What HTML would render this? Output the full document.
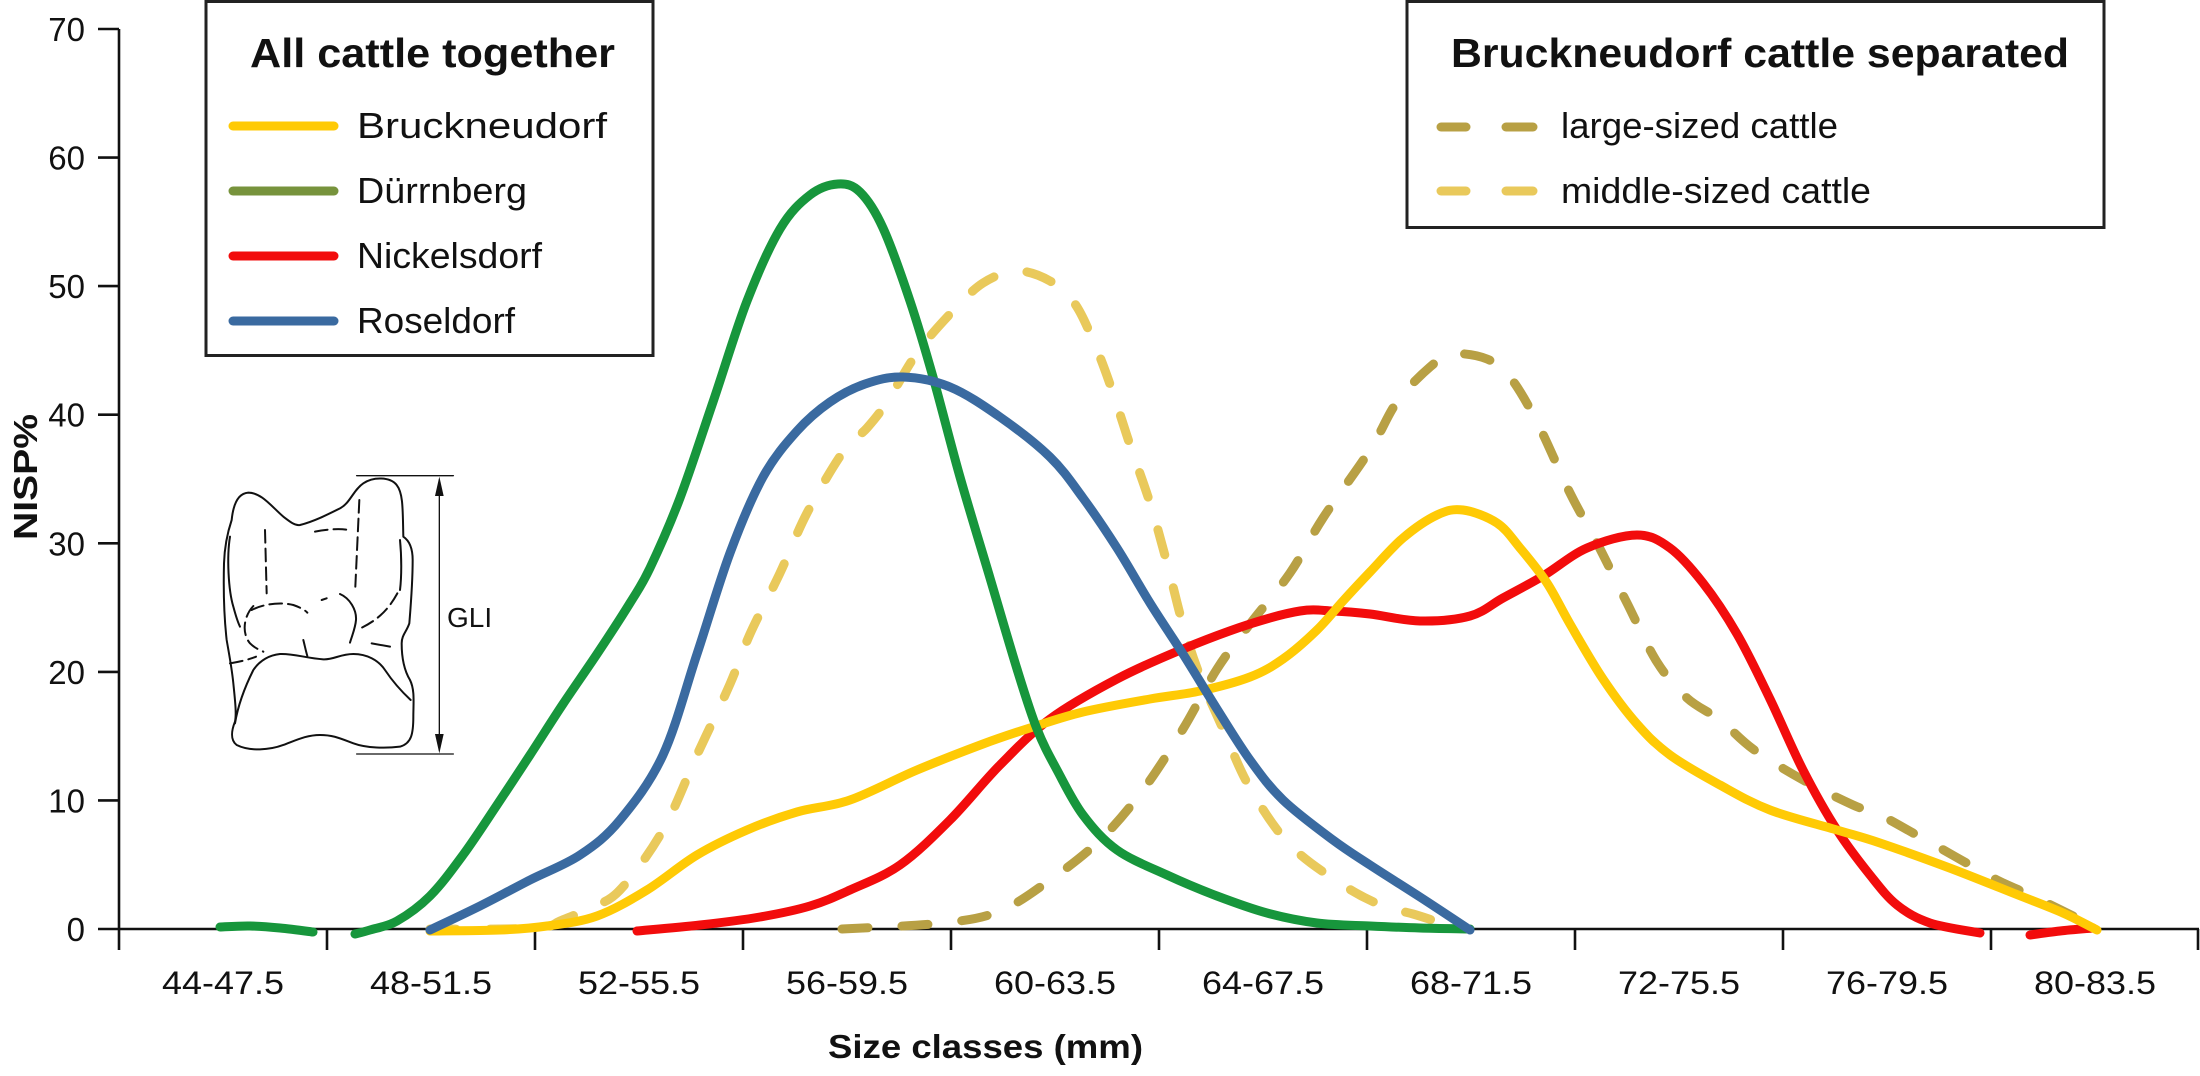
<!DOCTYPE html>
<html>
<head>
<meta charset="utf-8">
<style>
  html, body { margin: 0; padding: 0; background: #ffffff; }
  svg { display: block; }
  text { font-family: "Liberation Sans", Arial, sans-serif; fill: #111; }
</style>
</head>
<body>
<svg id="chart" width="2200" height="1076" viewBox="0 0 2200 1076" xmlns="http://www.w3.org/2000/svg">
  <rect x="0" y="0" width="2200" height="1076" fill="#ffffff"/>

  <!-- Axes -->
  <g stroke="#111" stroke-width="2.6" fill="none">
    <line x1="119" y1="29" x2="119" y2="950"/>
    <line x1="98" y1="929" x2="2199" y2="929"/>
    <line x1="98" y1="29" x2="119" y2="29"/>
    <line x1="98" y1="157.6" x2="119" y2="157.6"/>
    <line x1="98" y1="286.1" x2="119" y2="286.1"/>
    <line x1="98" y1="414.7" x2="119" y2="414.7"/>
    <line x1="98" y1="543.3" x2="119" y2="543.3"/>
    <line x1="98" y1="671.9" x2="119" y2="671.9"/>
    <line x1="98" y1="800.4" x2="119" y2="800.4"/>
    <line x1="327" y1="929" x2="327" y2="950"/>
    <line x1="535" y1="929" x2="535" y2="950"/>
    <line x1="743" y1="929" x2="743" y2="950"/>
    <line x1="951" y1="929" x2="951" y2="950"/>
    <line x1="1159" y1="929" x2="1159" y2="950"/>
    <line x1="1367" y1="929" x2="1367" y2="950"/>
    <line x1="1575" y1="929" x2="1575" y2="950"/>
    <line x1="1783" y1="929" x2="1783" y2="950"/>
    <line x1="1991" y1="929" x2="1991" y2="950"/>
    <line x1="2198" y1="929" x2="2198" y2="950"/>
  </g>

  <!-- Y tick labels -->
  <g font-size="33" text-anchor="end">
    <text x="85" y="41">70</text>
    <text x="85" y="169.6">60</text>
    <text x="85" y="298.1">50</text>
    <text x="85" y="426.7">40</text>
    <text x="85" y="555.3">30</text>
    <text x="85" y="683.9">20</text>
    <text x="85" y="812.4">10</text>
    <text x="85" y="941">0</text>
  </g>

  <!-- X tick labels -->
  <g font-size="32">
    <text x="162" y="994" textLength="122" lengthAdjust="spacingAndGlyphs">44-47.5</text>
    <text x="370" y="994" textLength="122" lengthAdjust="spacingAndGlyphs">48-51.5</text>
    <text x="578" y="994" textLength="122" lengthAdjust="spacingAndGlyphs">52-55.5</text>
    <text x="786" y="994" textLength="122" lengthAdjust="spacingAndGlyphs">56-59.5</text>
    <text x="994" y="994" textLength="122" lengthAdjust="spacingAndGlyphs">60-63.5</text>
    <text x="1202" y="994" textLength="122" lengthAdjust="spacingAndGlyphs">64-67.5</text>
    <text x="1410" y="994" textLength="122" lengthAdjust="spacingAndGlyphs">68-71.5</text>
    <text x="1618" y="994" textLength="122" lengthAdjust="spacingAndGlyphs">72-75.5</text>
    <text x="1826" y="994" textLength="122" lengthAdjust="spacingAndGlyphs">76-79.5</text>
    <text x="2034" y="994" textLength="122" lengthAdjust="spacingAndGlyphs">80-83.5</text>
  </g>

  <!-- Axis titles -->
  <text x="828" y="1058" font-size="33" font-weight="bold" textLength="315" lengthAdjust="spacingAndGlyphs">Size classes (mm)</text>
  <text transform="translate(37,540) rotate(-90)" x="0" y="0" font-size="33" font-weight="bold" textLength="126" lengthAdjust="spacingAndGlyphs">NISP%</text>

  <!-- Bone drawing -->
  <g transform="translate(200,450) scale(0.33333)" fill="none" stroke="#111" stroke-width="6" stroke-linecap="round" stroke-linejoin="round">
    <path d="M95,210 C100,160 115,130 145,128 C185,128 215,170 250,200 C270,215 285,228 300,225 C340,215 380,195 420,175 C450,160 460,120 490,100 C520,80 570,80 590,105 C610,130 608,180 610,260 C625,270 638,290 638,330 C638,400 632,470 628,520 C620,545 605,555 605,580 C605,620 612,660 630,690 C645,720 640,760 640,800 C640,850 635,880 600,890 C560,895 500,895 460,880 C420,865 400,855 360,855 C320,855 290,870 250,885 C210,900 150,905 110,885 C90,870 95,840 105,815 C110,790 105,750 100,700 C95,650 85,600 80,570 C72,500 70,420 72,340 C74,280 85,240 95,210 Z"/>
    <path d="M90,260 C80,320 85,420 100,470 C108,500 115,520 120,530"/>
    <path d="M105,820 C115,760 140,700 160,660 C180,630 210,615 240,612 C280,610 320,625 370,628 C400,630 420,612 460,612 C500,612 535,630 555,660 C575,690 600,720 632,750"/>
    <path d="M310,570 C315,590 318,605 322,618"/>
    <path d="M420,432 C450,445 470,480 468,510 C466,535 455,560 450,578"/>
    <path d="M600,270 C605,320 605,380 600,420"/>
    <path d="M515,580 L570,590"/>
    <g stroke-dasharray="38 18">
      <path d="M195,240 L200,430"/>
      <path d="M478,150 L466,410"/>
      <path d="M345,245 C380,238 420,235 445,240"/>
      <path d="M155,480 C190,462 240,455 280,465 C300,472 315,480 322,488"/>
      <path d="M365,450 L380,445"/>
      <path d="M160,468 C130,500 125,550 150,580 C165,595 180,600 190,605"/>
      <path d="M90,640 C120,635 150,628 168,620"/>
      <path d="M592,430 C570,470 540,510 470,540"/>
    </g>
    <g stroke-width="4">
      <line x1="470" y1="77" x2="760" y2="77"/>
      <line x1="470" y1="912" x2="760" y2="912"/>
      <line x1="718" y1="90" x2="718" y2="900"/>
    </g>
    <polygon points="718,80 705,138 731,138" fill="#111" stroke="none"/>
    <polygon points="718,910 705,852 731,852" fill="#111" stroke="none"/>
  </g>
  <text x="447" y="627" font-size="28">GLI</text>

  <!-- Series -->
  <g fill="none" stroke-width="9" stroke-linecap="round" stroke-linejoin="round">
    <polyline class="smooth" stroke="#E9C95B" stroke-dasharray="26 34" points="430,929 500,929 545,927 560,921 590,908 620,890 663,830 697,755 730,684 750,634 780,573 807,513 843,452 867,428 887,402 917,353 950,314 983,283 1017,271 1050,281 1075,304 1095,345 1112,390 1130,445 1150,503 1167,563 1183,625 1200,676 1223,729 1250,788 1290,845 1343,885 1383,906 1413,914 1445,924 1465,929"/>
    <polyline class="smooth" stroke="#B8A044" stroke-dasharray="26 34" points="842,929 943,923 1000,911 1050,880 1100,840 1143,790 1183,729 1217,669 1250,624 1290,573 1323,518 1370,450 1397,402 1430,367 1453,354 1487,359 1510,377 1537,422 1570,493 1597,543 1627,603 1657,662 1687,698 1720,720 1753,749 1803,780 1853,805 1880,815 1913,833 1940,848 1970,865 1997,880 2030,895 2057,908 2097,928"/>
    <polyline class="smooth" stroke="#F20C0C" points="637,931 700,925 760,917 810,906 850,890 900,865 950,820 1000,765 1050,719 1117,679 1183,649 1250,624 1300,611 1333,611 1370,614 1420,621 1470,616 1503,598 1543,576 1587,548 1637,535 1670,548 1703,583 1737,634 1770,699 1803,770 1837,830 1870,875 1897,905 1930,923 1980,933"/>
    <polyline class="smooth" stroke="#F20C0C" points="2030,935 2060,931 2093,928"/>
    <polyline class="smooth" stroke="#FFCA05" points="430,931 500,930 547,926 597,916 647,890 697,855 747,830 797,812 850,800 917,770 983,744 1033,727 1083,712 1150,699 1200,691 1250,677 1283,659 1317,630 1343,601 1370,572 1403,538 1437,515 1463,510 1497,523 1520,548 1547,583 1570,624 1603,679 1637,724 1670,755 1720,785 1770,810 1837,830 1880,843 1947,867 2013,893 2063,913 2097,930"/>
    <polyline class="smooth" stroke="#17963C" points="220,927 250,926 280,928 313,932"/>
    <polyline class="smooth" stroke="#17963C" points="355,934 370,930 397,921 430,896 463,855 497,805 530,755 563,704 597,654 630,603 650,568 680,498 713,402 747,301 780,229 810,195 838,184 860,192 883,228 910,301 933,377 960,477 990,578 1017,669 1037,729 1057,770 1083,815 1117,850 1167,875 1217,896 1267,913 1317,923 1370,926 1420,928 1470,929"/>
    <polyline class="smooth" stroke="#3A6AA0" points="430,930 480,906 530,880 580,855 620,820 663,755 697,654 730,553 763,477 797,431 830,402 865,384 903,377 950,387 1000,417 1050,457 1083,498 1117,548 1150,603 1183,654 1217,709 1250,760 1283,800 1333,840 1370,865 1420,897 1470,930"/>
  </g>

  <!-- Legend 1 -->
  <rect x="206" y="1.5" width="447" height="354" fill="#ffffff" stroke="#222" stroke-width="3"/>
  <text x="250" y="67" font-size="41" font-weight="bold" textLength="365" lengthAdjust="spacingAndGlyphs">All cattle together</text>
  <g stroke-width="9" stroke-linecap="round">
    <line x1="233" y1="126" x2="334" y2="126" stroke="#FFCA05"/>
    <line x1="233" y1="191" x2="334" y2="191" stroke="#77933C"/>
    <line x1="233" y1="256" x2="334" y2="256" stroke="#F20C0C"/>
    <line x1="233" y1="321" x2="334" y2="321" stroke="#3A6AA0"/>
  </g>
  <g font-size="36">
    <text x="357" y="138" textLength="250" lengthAdjust="spacingAndGlyphs">Bruckneudorf</text>
    <text x="357" y="203" textLength="170" lengthAdjust="spacingAndGlyphs">Dürrnberg</text>
    <text x="357" y="268" textLength="185" lengthAdjust="spacingAndGlyphs">Nickelsdorf</text>
    <text x="357" y="333" textLength="158" lengthAdjust="spacingAndGlyphs">Roseldorf</text>
  </g>

  <!-- Legend 2 -->
  <rect x="1407" y="1.5" width="697" height="226" fill="#ffffff" stroke="#222" stroke-width="3"/>
  <text x="1451" y="67" font-size="41" font-weight="bold" textLength="618" lengthAdjust="spacingAndGlyphs">Bruckneudorf cattle separated</text>
  <g stroke-width="9" stroke-linecap="round">
    <line x1="1441" y1="127" x2="1466" y2="127" stroke="#B8A044"/>
    <line x1="1506" y1="127" x2="1533" y2="127" stroke="#B8A044"/>
    <line x1="1441" y1="191" x2="1466" y2="191" stroke="#E9C95B"/>
    <line x1="1506" y1="191" x2="1533" y2="191" stroke="#E9C95B"/>
  </g>
  <g font-size="36">
    <text x="1561" y="138" textLength="277" lengthAdjust="spacingAndGlyphs">large-sized cattle</text>
    <text x="1561" y="203" textLength="310" lengthAdjust="spacingAndGlyphs">middle-sized cattle</text>
  </g>
</svg>
<script>
(function () {
  var NS = "http://www.w3.org/2000/svg";
  var pls = document.querySelectorAll("polyline.smooth");
  for (var i = 0; i < pls.length; i++) {
    var pl = pls[i];
    var raw = pl.getAttribute("points").trim().split(/\s+/);
    var p = raw.map(function (s) { var a = s.split(","); return [parseFloat(a[0]), parseFloat(a[1])]; });
    if (p.length < 3) continue;
    var d = "M" + p[0][0] + "," + p[0][1];
    for (var k = 0; k < p.length - 1; k++) {
      var p0 = p[k > 0 ? k - 1 : k], p1 = p[k], p2 = p[k + 1], p3 = p[k + 2 < p.length ? k + 2 : k + 1];
      var c1x = p1[0] + (p2[0] - p0[0]) / 6, c1y = p1[1] + (p2[1] - p0[1]) / 6;
      var c2x = p2[0] - (p3[0] - p1[0]) / 6, c2y = p2[1] - (p3[1] - p1[1]) / 6;
      d += " C" + c1x.toFixed(1) + "," + c1y.toFixed(1) + " " + c2x.toFixed(1) + "," + c2y.toFixed(1) + " " + p2[0] + "," + p2[1];
    }
    var path = document.createElementNS(NS, "path");
    path.setAttribute("d", d);
    path.setAttribute("stroke", pl.getAttribute("stroke"));
    if (pl.getAttribute("stroke-dasharray")) path.setAttribute("stroke-dasharray", pl.getAttribute("stroke-dasharray"));
    pl.parentNode.replaceChild(path, pl);
  }
})();
</script>
</body>
</html>
